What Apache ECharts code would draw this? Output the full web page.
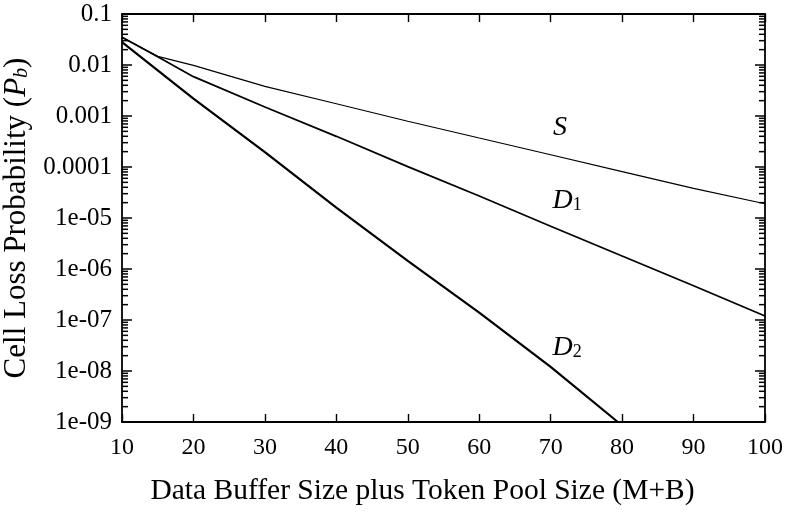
<!DOCTYPE html>
<html>
<head>
<meta charset="utf-8">
<script src="https://cdn.jsdelivr.net/npm/echarts@6/dist/echarts.min.js"></script>
<style>
html,body{margin:0;padding:0;background:#fff;}
#chart{width:787px;height:518px;}
</style>
</head>
<body>
<div id="chart"></div>
<script>
// ---- data ----
const xS = [10, 15, 20, 30, 40, 50, 60, 70, 80, 90, 100];
const yS = [0.035, 0.0148, 0.0098, 3.8e-3, 1.74e-3, 7.9e-4, 3.7e-4, 1.74e-4, 8.1e-5, 3.8e-5, 1.9e-5];

const xD1 = [10, 15, 20, 30, 40, 50, 60, 70, 80, 90, 100];
const yD1 = [0.035, 0.0145, 5.9e-3, 1.5e-3, 4.0e-4, 1.02e-4, 2.7e-5, 6.9e-6, 1.8e-6, 4.7e-7, 1.2e-7];

const xD2 = [10, 20, 30, 40, 50, 60, 70, 79.4];
const yD2 = [0.028, 2.2e-3, 1.95e-4, 1.6e-5, 1.45e-6, 1.4e-7, 1.2e-8, 1e-9];

const yTickLabels = ['1e-09', '1e-08', '1e-07', '1e-06', '1e-05', '0.0001', '0.001', '0.01', '0.1'];
const xTickLabels = ['10', '20', '30', '40', '50', '60', '70', '80', '90', '100'];

const xTitle = 'Data Buffer Size plus Token Pool Size (M+B)';
const yTitlePrefix = 'Cell Loss Probability (';

// minor tick values (2..9 within each decade)
const minorTicks = [];
for (let e = -9; e < -1; e++) {
  for (let m = 2; m <= 9; m++) minorTicks.push(m * Math.pow(10, e));
}

const pair = (xs, ys) => xs.map((x, i) => [x, ys[i]]);
const FONT = 'Liberation Serif';
const X_MIN = 10, X_MAX = 100;

const chart = echarts.init(document.getElementById('chart'), null, {renderer: 'canvas'});

const axisLine = {show: true, lineStyle: {color: '#000', width: 1.8}};
const hidden = 'rgba(0,0,0,0)';

function seriesLabel(txt, sub) {
  return {
    show: true, position: 'inside',
    formatter: sub ? '{i|' + txt + '}{s|' + sub + '}' : '{i|' + txt + '}',
    rich: {
      i: {color: '#000', fontFamily: FONT, fontSize: 28, fontStyle: 'italic'},
      s: {color: '#000', fontFamily: FONT, fontSize: 18, verticalAlign: 'bottom', padding: [10, 0, 0, 0]}
    }
  };
}

const option = {
  backgroundColor: '#fff',
  animation: false,
  grid: {left: 122, right: 22, top: 14, bottom: 96, containLabel: false, outerBoundsMode: 'none'},
  xAxis: [{
    type: 'value', min: X_MIN, max: X_MAX, interval: 10,
    axisLine: axisLine,
    axisTick: {show: true, inside: true, length: 8, lineStyle: {color: '#000', width: 1.4}},
    splitLine: {show: false},
    axisLabel: {color: '#000', fontFamily: FONT, fontSize: 24, margin: 14,
      formatter: v => xTickLabels[Math.round((v - 10) / 10)]},
    name: xTitle, nameLocation: 'middle', nameGap: 54,
    nameTextStyle: {color: '#000', fontFamily: FONT, fontSize: 29.5, padding: [0, 42, 0, 0]}
  }, {
    type: 'value', min: X_MIN, max: X_MAX, interval: 10, position: 'top',
    axisLine: axisLine,
    axisTick: {show: true, inside: true, length: 8, lineStyle: {color: '#000', width: 1.4}},
    splitLine: {show: false}, axisLabel: {show: false}
  }],
  yAxis: [{
    type: 'log', logBase: 10, min: 1e-9, max: 0.1, splitNumber: 8,
    axisLine: axisLine,
    axisTick: {show: true, inside: true, length: 10, lineStyle: {color: '#000', width: 1.5}},
    splitLine: {show: false},
    axisLabel: {color: '#000', fontFamily: FONT, fontSize: 25, margin: 10,
      formatter: v => yTickLabels[Math.round(Math.log10(v)) + 9]},
    name: '{t|' + yTitlePrefix + '}{i|P}{s|b}{t|)}',
    nameLocation: 'middle', nameGap: 90, nameRotate: 90,
    nameTextStyle: {
      rich: {
        t: {color: '#000', fontFamily: FONT, fontSize: 31},
        i: {color: '#000', fontFamily: FONT, fontSize: 31, fontStyle: 'italic'},
        s: {color: '#000', fontFamily: FONT, fontSize: 20, fontStyle: 'italic', verticalAlign: 'bottom', padding: [10, 0, 0, 0]}
      }
    }
  }, {
    type: 'log', logBase: 10, min: 1e-9, max: 0.1, splitNumber: 8, position: 'right',
    axisLine: axisLine,
    axisTick: {show: true, inside: true, length: 10, lineStyle: {color: '#000', width: 1.5}},
    splitLine: {show: false}, axisLabel: {show: false}
  }],
  series: [
    {
      name: 'S', type: 'line', data: pair(xS, yS), showSymbol: false, symbol: 'none',
      lineStyle: {color: '#000', width: 1.2},
      markPoint: {
        symbol: 'circle', symbolSize: 1, itemStyle: {color: hidden},
        data: [{coord: [71.3, 5.8e-4]}],
        label: seriesLabel('S')
      }
    },
    {
      name: 'D1', type: 'line', data: pair(xD1, yD1), showSymbol: false, symbol: 'none',
      lineStyle: {color: '#000', width: 1.8},
      markPoint: {
        symbol: 'circle', symbolSize: 1, itemStyle: {color: hidden},
        data: [{coord: [72.3, 2.2e-5]}],
        label: seriesLabel('D', '1')
      }
    },
    {
      name: 'D2', type: 'line', data: pair(xD2, yD2), showSymbol: false, symbol: 'none',
      lineStyle: {color: '#000', width: 2.2},
      markPoint: {
        symbol: 'circle', symbolSize: 1, itemStyle: {color: hidden},
        data: [{coord: [72.3, 2.9e-8]}],
        label: seriesLabel('D', '2')
      }
    }
  ]
};
chart.setOption(option);

// minor ticks on the left and right frame, placed through the library's own scale
const gfx = [];
minorTicks.forEach(function (v) {
  const pl = chart.convertToPixel({gridIndex: 0}, [X_MIN, v]);
  const pr = chart.convertToPixel({gridIndex: 0}, [X_MAX, v]);
  if (!pl || !pr || isNaN(pl[1])) return;
  gfx.push({type: 'rect', silent: true, z: 10,
    shape: {x: pl[0], y: pl[1] - 0.75, width: 6, height: 1.5},
    style: {fill: '#000'}});
  gfx.push({type: 'rect', silent: true, z: 10,
    shape: {x: pr[0] - 6, y: pr[1] - 0.75, width: 6, height: 1.5},
    style: {fill: '#000'}});
});
chart.setOption({graphic: {elements: gfx}});
</script>
</body>
</html>
